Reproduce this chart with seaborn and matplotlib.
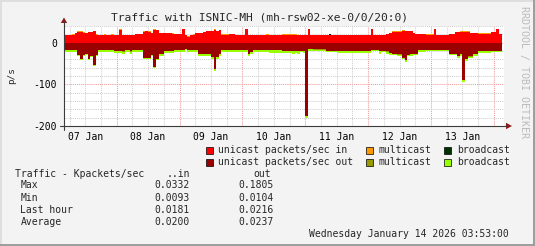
import numpy as np
import pandas as pd
import matplotlib
matplotlib.use("Agg")
import matplotlib.pyplot as plt
from matplotlib.patches import Rectangle, Polygon
from matplotlib.lines import Line2D
import seaborn as sns

# ---------------- data (hourly bins, hours since 2026-01-07 00:00) ----------------
bin_start_hour = 4

in_total = [
    19, 19, 19, 20, 23, 27, 27, 26, 24, 25, 25, 29,
    20, 19, 19, 20, 19, 19, 20, 19, 19, 33, 19, 19,
    19, 19, 19, 22, 22, 22, 27, 28, 27, 24, 33, 30,
    23, 23, 23, 23, 23, 23, 22, 22, 21, 33, 19, 15,
    19, 21, 24, 24, 24, 26, 28, 28, 28, 32, 29, 31,
    20, 20, 20, 22, 22, 19, 19, 19, 19, 33, 19, 19,
    19, 19, 19, 19, 19, 20, 18, 18, 18, 18, 18, 20,
    20, 20, 20, 21, 21, 19, 19, 19, 19, 33, 19, 19,
    19, 19, 19, 19, 19, 20, 19, 19, 19, 19, 19, 19,
    19, 19, 19, 19, 19, 19, 19, 19, 19, 33, 19, 19,
    19, 19, 19, 21, 24, 27, 27, 27, 27, 30, 28, 28,
    28, 24, 22, 22, 22, 22, 20, 20, 20, 33, 19, 19,
    19, 19, 19, 22, 22, 26, 26, 27, 27, 27, 27, 24,
    24, 23, 23, 23, 23, 23, 23, 26, 26, 34, 22,
]

multicast_in = [
    0.5, 0.5, 0.5, 1.8, 0.5, 0.5, 0.5, 0.5, 0.5, 0.5, 0.5, 1.8,
    0.5, 0.5, 0.5, 0.5, 0.5, 0.5, 0.5, 0.5, 0.5, 1.8, 0.5, 0.5,
    1.2, 0.5, 0.5, 0.5, 0.5, 0.5, 0.5, 0.5, 0.5, 0.5, 1.5, 0.5,
    0.5, 0.5, 0.5, 0.5, 0.5, 1.8, 0.5, 0.5, 0.5, 0.5, 0.5, 0.5,
    0.5, 1.5, 0.5, 0.5, 0.5, 0.5, 0.5, 0.5, 0.5, 0.5, 0.5, 0.5,
    0.5, 0.5, 0.5, 1.5, 1.5, 0.5, 0.5, 0.5, 0.5, 0.5, 0.5, 0.5,
    0.5, 0.5, 0.5, 0.5, 0.5, 1.5, 0.5, 0.5, 0.5, 0.5, 0.5, 1.5,
    1.5, 1.5, 1.5, 1.5, 1.5, 0.5, 0.5, 0.5, 0.5, 0.5, 0.5, 0.5,
    0.5, 0.5, 0.5, 0.5, 0.5, 0.5, 1.5, 1.5, 1.2, 1.5, 1.2, 1.5,
    0.5, 0.5, 0.5, 0.5, 0.5, 0.5, 0.5, 0.5, 0.5, 0.5, 0.5, 0.5,
    0.5, 0.5, 0.5, 0.5, 0.5, 0.5, 0.5, 0.5, 0.5, 1.8, 0.5, 0.5,
    0.5, 0.5, 1.5, 1.5, 1.5, 1.5, 0.5, 0.5, 0.5, 0.5, 0.5, 0.5,
    0.5, 0.5, 0.5, 1.5, 1.5, 0.5, 0.5, 0.5, 0.5, 0.5, 0.5, 0.5,
    0.5, 0.5, 1.0, 1.0, 1.0, 1.0, 1.0, 0.5, 0.5, 0.5, 1.2,
]

broadcast_in = [
    0, 0, 0, 0, 0, 0, 0, 1.2, 0, 0, 0, 0,
    0, 0, 0, 0, 0, 0, 0, 1.0, 0, 0, 0, 0,
    0, 0, 0, 0, 0, 0, 0, 0, 0, 0, 0, 0,
    0, 0, 0, 0, 0, 0, 0, 0, 0, 0, 0, 0,
    0, 0, 0, 0, 0, 0, 0, 0, 0, 0, 0, 0,
    0, 0, 0, 0, 0, 0, 0, 0, 0, 0, 0, 0,
    0, 0, 0, 0, 0, 0, 0, 0, 0, 0, 0, 0,
    0, 0, 0, 0, 0, 0, 0, 0, 0, 0, 0, 0,
    0, 0, 0, 0, 0, 1.2, 0, 0, 0, 0, 0, 0,
    1.2, 1.0, 0, 0, 0, 0, 0, 0, 0, 0, 0, 0,
    0, 0, 0, 0, 0, 0, 0, 0, 0, 0, 0, 0,
    0, 0, 0, 0, 0, 0, 0, 0, 0, 0, 0, 0,
    0, 0, 0, 0, 0, 0, 0, 0, 0, 0, 0, 0,
    0, 0, 0, 0, 0, 0, 0, 0, 0, 0, 0,
]

unicast_out = [
    17, 17, 17, 17, 17, 30, 38, 30, 28, 38, 32, 54,
    29, 18, 18, 18, 18, 18, 18, 20, 20, 20, 21, 18,
    18, 21, 18, 18, 18, 18, 36, 37, 36, 30, 58, 38,
    28, 28, 20, 20, 20, 20, 17, 17, 17, 17, 15, 17,
    17, 17, 17, 28, 27, 27, 27, 27, 34, 64, 34, 28,
    18, 18, 18, 18, 18, 18, 18, 18, 18, 18, 27, 23,
    17, 17, 17, 17, 17, 17, 18, 18, 18, 18, 18, 19,
    19, 19, 19, 20, 19, 20, 19, 20, 176, 16, 16, 16,
    16, 16, 16, 16, 19, 19, 19, 19, 20, 20, 20, 20,
    19, 19, 19, 19, 19, 19, 19, 19, 19, 17, 17, 17,
    20, 19, 19, 21, 25, 26, 26, 28, 28, 36, 42, 30,
    28, 26, 26, 18, 18, 18, 17, 17, 17, 17, 17, 17,
    17, 18, 18, 26, 26, 26, 31, 27, 90, 40, 33, 33,
    27, 27, 20, 20, 20, 20, 20, 19, 19, 19, 19,
]

multicast_out = [
    0.3, 0.3, 0.3, 0.3, 0.3, 0.3, 0.3, 0.3, 0.3, 0.3, 0.3, 0.3,
    0.3, 0.3, 0.3, 0.3, 0.3, 0.3, 0.3, 0.3, 0.3, 0.3, 0.3, 0.3,
    0.3, 0.3, 0.3, 0.3, 0.3, 0.3, 0.3, 0.3, 0.3, 0.3, 0.3, 0.3,
    0.3, 0.3, 0.3, 0.3, 0.3, 0.3, 0.3, 0.3, 0.3, 0.3, 0.3, 0.3,
    0.3, 0.3, 0.3, 0.3, 0.3, 0.3, 0.3, 0.3, 0.3, 0.3, 0.3, 0.3,
    0.3, 0.3, 0.3, 0.3, 0.3, 0.3, 0.3, 0.3, 0.3, 0.3, 0.3, 0.3,
    0.3, 0.3, 0.3, 0.3, 0.3, 0.3, 0.3, 0.3, 0.3, 0.3, 0.3, 0.3,
    0.3, 0.3, 0.3, 0.3, 0.3, 0.3, 0.3, 0.3, 0.3, 0.3, 0.3, 1.5,
    1.5, 1.5, 1.5, 1.5, 0.3, 0.3, 0.3, 0.3, 0.3, 0.3, 0.3, 0.3,
    0.3, 0.3, 0.3, 0.3, 0.3, 0.3, 0.3, 0.3, 0.3, 1.5, 1.5, 1.5,
    0.3, 0.3, 0.3, 0.3, 0.3, 0.3, 0.3, 1.0, 1.0, 0.3, 0.3, 0.3,
    0.3, 0.3, 0.3, 0.3, 0.3, 0.3, 0.3, 0.3, 0.3, 1.0, 1.0, 1.0,
    1.0, 0.3, 0.3, 0.3, 0.3, 0.3, 0.3, 0.3, 0.3, 0.3, 0.3, 0.3,
    0.3, 0.3, 0.3, 0.3, 0.3, 0.3, 0.3, 0.3, 0.3, 0.3, 0.3,
]

out_total = [
    22, 22, 22, 22, 22, 33, 41, 32, 30, 41, 34, 57,
    31, 23, 23, 23, 23, 23, 23, 24, 24, 25, 26, 23,
    23, 26, 23, 23, 23, 23, 39, 40, 39, 33, 61, 41,
    31, 31, 24, 24, 24, 24, 22, 22, 22, 22, 18, 22,
    22, 22, 22, 32, 32, 32, 32, 32, 40, 69, 40, 32,
    23, 23, 23, 23, 23, 23, 23, 23, 23, 23, 31, 27,
    22, 22, 22, 22, 22, 22, 24, 24, 24, 24, 24, 24,
    24, 24, 24, 26, 24, 26, 22, 25, 180.5, 20, 20, 19,
    19, 19, 19, 19, 22, 22, 22, 22, 24, 24, 24, 24,
    24, 24, 24, 24, 24, 24, 24, 24, 24, 21, 21, 21,
    26, 22, 22, 27, 30, 30, 30, 33, 33, 40, 46, 33,
    31, 29, 29, 22, 22, 22, 20, 20, 20, 20, 20, 20,
    20, 21, 21, 30, 30, 30, 37, 31, 94, 44, 37, 37,
    31, 31, 25, 25, 25, 25, 25, 23, 23, 23, 23,
]

in_names = ["unicast packets/sec in", "multicast in", "broadcast in"]
out_names = ["unicast packets/sec out", "multicast out", "broadcast out"]
colors = {
    "unicast packets/sec in": "#FF0000",
    "multicast in": "#FF9900",
    "broadcast in": "#003300",
    "unicast packets/sec out": "#990000",
    "multicast out": "#999900",
    "broadcast out": "#99FF00",
}

day_labels = ["07 Jan", "08 Jan", "09 Jan", "10 Jan", "11 Jan", "12 Jan", "13 Jan"]
y_tick_values = [0, -100, -200]
x_start, x_end = 3.883, 171.883   # Jan 7 03:53 .. Jan 14 03:53
y_min, y_max = -200, 40

title = "Traffic with ISNIC-MH (mh-rsw02-xe-0/0/20:0)"
stat_header = ["Traffic - Kpackets/sec", "..in", "out"]
stat_rows = ["Max", "Min", "Last hour", "Average"]
stat_in = ["0.0332", "0.0093", "0.0181", "0.0200"]
stat_out = ["0.1805", "0.0104", "0.0216", "0.0237"]
timestamp = "Wednesday January 14 2026 03:53:00"

# ---------------- derived tables ----------------
n = len(in_total)
edges = np.arange(n + 1) + bin_start_hour
centers = edges[:-1] + 0.5
in_total_a = np.array(in_total, float)
mc_in_a = np.array(multicast_in, float)
bc_in_a = np.array(broadcast_in, float)
uc_in_a = in_total_a - mc_in_a - bc_in_a
uc_out_a = np.array(unicast_out, float)
mc_out_a = np.array(multicast_out, float)
bc_out_a = np.array(out_total, float) - uc_out_a - mc_out_a

df_in = pd.DataFrame({
    "hour": np.tile(centers, 3),
    "value": np.concatenate([uc_in_a, mc_in_a, bc_in_a]),
    "series": np.repeat(in_names, n),
})
df_out = pd.DataFrame({
    "hour": np.tile(centers, 3),
    "value": -np.concatenate([uc_out_a, mc_out_a, bc_out_a]),
    "series": np.repeat(out_names, n),
})

# ---------------- figure ----------------
sns.set_style("white")
plt.rcParams["font.family"] = ["DejaVu Sans Mono"]

W, H = 535, 246
BG = "#F3F3F3"
fig = plt.figure(figsize=(W / 100, H / 100), dpi=100, facecolor=BG)


def fx(x):
    return x / W


def fy(y):
    return 1 - y / H


ax = fig.add_axes([fx(64), fy(126), 440 / W, 100 / H])
ax.set_facecolor("white")

# grid
minor_c, major_c = "#CFCFCF", "#F29A9A"
for h in range(0, 180, 6):
    if x_start < h < x_end:
        ax.axvline(h, color=major_c if h % 24 == 0 else minor_c, lw=0.75,
                   ls=(0, (1, 1)), zorder=0.5)
for v in range(y_min + 20, y_max + 1, 20):
    ax.axhline(v, color=major_c if v % 100 == 0 else minor_c, lw=0.75,
               ls=(0, (1, 1)), zorder=0.5)

# stacked areas (step); seaborn stacks the last hue level at the baseline
for df, names in ((df_in, in_names), (df_out, out_names)):
    sns.histplot(data=df, x="hour", weights="value", hue="series",
                 hue_order=names[::-1], multiple="stack", binwidth=1,
                 binrange=(float(edges[0]), float(edges[-1])),
                 element="step", fill=True, alpha=1, linewidth=0,
                 palette=colors, legend=False, ax=ax)

ax.set_xlim(x_start, x_end)
ax.set_ylim(y_min, y_max)
for s in ax.spines.values():
    s.set_visible(False)
ax.set_xlabel("")
ax.set_ylabel("")
ax.set_xticks([12 + 24 * i for i in range(len(day_labels))])
ax.set_xticklabels(day_labels)
ax.set_yticks(y_tick_values)
ax.set_yticklabels([str(v) for v in y_tick_values])
ax.tick_params(axis="both", length=0, labelsize=7, colors="black")
ax.tick_params(axis="x", pad=4)
ax.tick_params(axis="y", pad=5)

# axis lines + arrows
axis_c = "#3C3C3C"
arrow_c = "#8B1A1A"
fig.add_artist(Line2D([fx(64), fx(64)], [fy(130), fy(22)], color=axis_c, lw=0.8))
fig.add_artist(Line2D([fx(60), fx(507)], [fy(126), fy(126)], color=axis_c, lw=0.8))
fig.add_artist(Polygon([(fx(60.8), fy(23)), (fx(67.2), fy(23)), (fx(64), fy(17.5))],
                       closed=True, transform=fig.transFigure, color=arrow_c, lw=0))
fig.add_artist(Polygon([(fx(506), fy(122.8)), (fx(506), fy(129.2)), (fx(512), fy(126))],
                       closed=True, transform=fig.transFigure, color=arrow_c, lw=0))

# title, unit label, watermark
fig.text(fx(259.5), fy(17), title, ha="center", va="center", fontsize=8.1)
fig.text(fx(12), fy(75.5), "p/s", rotation=90, ha="center", va="center", fontsize=6.7)
fig.text(fx(524), fy(72), "RRDTOOL / TOBI OETIKER", rotation=270, ha="center",
         va="center", fontsize=7.2, color="#BBBBBB")

# legend
rows_y = [150, 162]
cols = [(206, 218.3), (366, 378.7), (444, 456.7)]
legend_texts = [["unicast packets/sec in", "multicast", "broadcast"],
                ["unicast packets/sec out", "multicast", "broadcast"]]
for r, (names, texts) in enumerate(zip((in_names, out_names), legend_texts)):
    for c, (name, txt) in enumerate(zip(names, texts)):
        sx, tx = cols[c]
        fig.add_artist(Rectangle((fx(sx), fy(rows_y[r] + 3.5)), 7 / W, 7 / H,
                                 transform=fig.transFigure, facecolor=colors[name],
                                 edgecolor="black", lw=0.5))
        fig.text(fx(tx), fy(rows_y[r]), txt, ha="left", va="center", fontsize=7)

# stats table
fig.text(fx(15), fy(174), stat_header[0], ha="left", va="center", fontsize=7)
fig.text(fx(190), fy(174), stat_header[1], ha="right", va="center", fontsize=7)
fig.text(fx(271), fy(174), stat_header[2], ha="right", va="center", fontsize=7)
for i, (lab, vi, vo) in enumerate(zip(stat_rows, stat_in, stat_out)):
    yy = 185.5 + 12.1 * i
    fig.text(fx(20.5), fy(yy), lab, ha="left", va="center", fontsize=7)
    fig.text(fx(190), fy(yy), vi, ha="right", va="center", fontsize=7)
    fig.text(fx(274), fy(yy), vo, ha="right", va="center", fontsize=7)
fig.text(fx(509), fy(234), timestamp, ha="right", va="center", fontsize=7)

# 3D frame
fig.add_artist(Line2D([0, 1], [fy(0.5), fy(0.5)], color="#DEDEDE", lw=1.4))
fig.add_artist(Line2D([fx(0.5), fx(0.5)], [0, 1], color="#DEDEDE", lw=1.4))
fig.add_artist(Line2D([0, 1], [fy(245), fy(245)], color="#9C9C9C", lw=1.4))
fig.add_artist(Line2D([fx(534), fx(534)], [0, 1], color="#9C9C9C", lw=1.4))

fig.savefig("out.png", dpi=100, facecolor=BG)
